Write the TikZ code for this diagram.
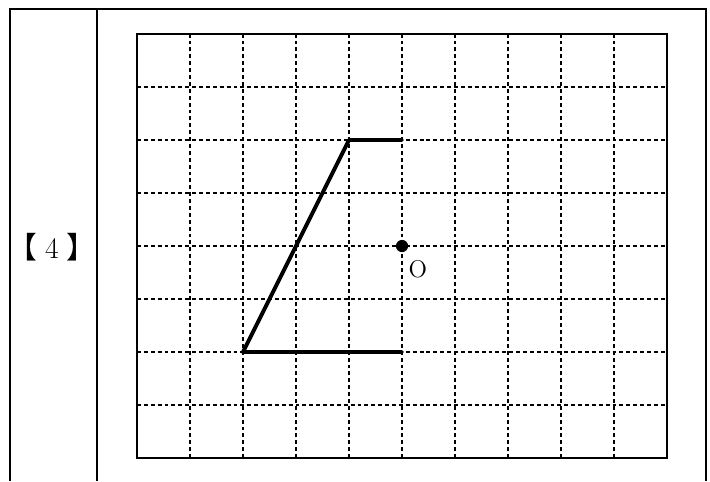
\documentclass[tikz,border=0pt]{standalone}
\usepackage{fontspec}
\newfontfamily\cjk{Noto Sans CJK SC}

\begin{document}
\begin{tikzpicture}[
  tableline/.style={line width=1.2pt},
  gridline/.style={line width=0.8pt, dash pattern=on 2.1pt off 1.6pt},
  figline/.style={line width=2.1pt, line cap=round, line join=round},
  point/.style={circle, fill=black, inner sep=0pt, minimum size=0.23cm}
]
\useasboundingbox (-2.585,-0.434) rectangle (10.811,8.642);

% table frame
\draw[tableline] (-2.396,-0.434) -- (-2.396,8.472) -- (10.736,8.472) -- (10.736,-0.434);
\draw[tableline] (-0.755,-0.434) -- (-0.755,8.472);
\node[font=\fontsize{16}{18}\selectfont] (num) at (-1.604,3.98) {{\cjk 【}\hspace{0.25em}4\hspace{0.25em}{\cjk 】}};

% grid
\foreach \x in {1,...,9}
  \draw[gridline] (\x,0) -- (\x,8);
\foreach \y in {1,...,7}
  \draw[gridline] (0,\y) -- (10,\y);
\draw[tableline] (0,0) rectangle (10,8);

% figure
\coordinate (A) at (4,6);
\coordinate (B) at (5,6);
\coordinate (C) at (2,2);
\coordinate (D) at (5,2);
\draw[figline] (B) -- (A) -- (C) -- (D);

\node[point] (O) at (5,4) {};
\node[font=\fontsize{13}{15}\selectfont] (olabel) at (5.3,3.56) {O};
\end{tikzpicture}
\end{document}
